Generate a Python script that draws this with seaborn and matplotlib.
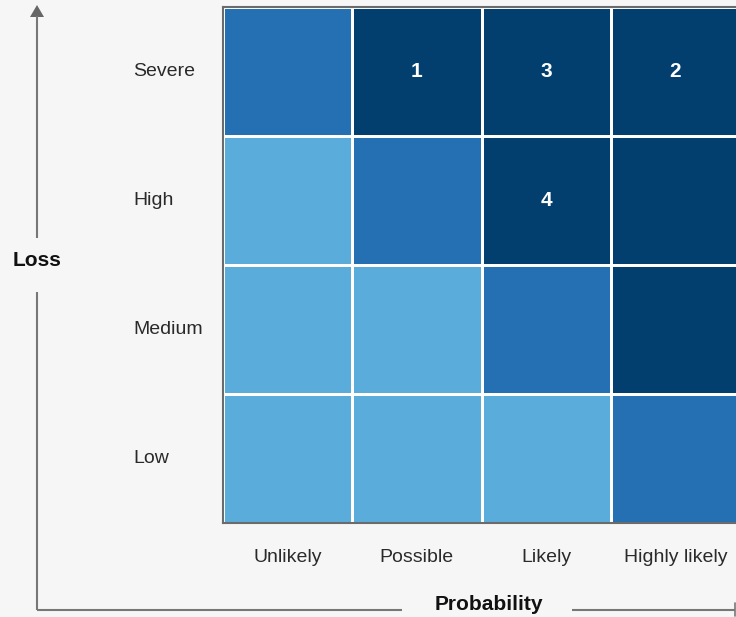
import numpy as np
import pandas as pd
import matplotlib
matplotlib.use("Agg")
import matplotlib.pyplot as plt
from matplotlib.colors import ListedColormap
from matplotlib.patches import Polygon
import seaborn as sns

# Axis categories
probability = ["Unlikely", "Possible", "Likely", "Highly likely"]
loss = ["Severe", "High", "Medium", "Low"]

# Risk level of each cell (rows follow `loss`, columns follow `probability`)
level_severe = [1, 2, 2, 2]
level_high = [0, 1, 2, 2]
level_medium = [0, 0, 1, 2]
level_low = [0, 0, 0, 1]

# Numbered risks placed on the matrix
risk_ids = ["1", "2", "3", "4"]
risk_probability = ["Possible", "Highly likely", "Likely", "Likely"]
risk_loss = ["Severe", "Severe", "Severe", "High"]

level_colors = ["#5aacdb", "#2470b3", "#023f6e"]
bg = "#f6f6f6"
axis_gray = "#777777"

levels = pd.DataFrame([level_severe, level_high, level_medium, level_low],
                      index=loss, columns=probability)
labels = pd.DataFrame("", index=loss, columns=probability)
for rid, p, l in zip(risk_ids, risk_probability, risk_loss):
    labels.loc[l, p] = rid

sns.set_theme(style="white")
plt.rcParams["font.family"] = ["Liberation Sans", "DejaVu Sans"]

W, H = 736, 617
fig = plt.figure(figsize=(W / 100, H / 100), dpi=100)
fig.patch.set_facecolor(bg)

# Background overlay in pixel coordinates for the axis arrows and titles
ov = fig.add_axes([0, 0, 1, 1], zorder=0)
ov.set_xlim(0, W)
ov.set_ylim(H, 0)
ov.axis("off")

left, right, top, bottom = 223, 740, 7, 523
ax = fig.add_axes([left / W, 1 - bottom / H, (right - left) / W, (bottom - top) / H], zorder=1)
sns.heatmap(levels, ax=ax, cmap=ListedColormap(level_colors), vmin=-0.5, vmax=2.5,
            cbar=False, linewidths=0.8, linecolor="white",
            annot=labels, fmt="",
            annot_kws={"color": "white", "fontsize": 15, "fontweight": "bold"})
ax.set_xlabel("")
ax.set_ylabel("")
for side in ["left", "top", "bottom"]:
    ax.spines[side].set_visible(True)
    ax.spines[side].set_color("#6b6b6b")
    ax.spines[side].set_linewidth(1.5)
ax.spines["right"].set_visible(False)

ax.tick_params(axis="y", length=0, pad=(left - 133) * 0.72, labelsize=14, labelcolor="#2a2a2a")
ax.tick_params(axis="x", length=0, pad=19, labelsize=14, labelcolor="#2a2a2a")
for t in ax.get_yticklabels():
    t.set_ha("left")
    t.set_va("center")
    t.set_rotation(0)
for t in ax.get_xticklabels():
    t.set_rotation(0)

# Vertical "Loss" axis with arrowhead
ov.plot([37, 37], [610, 292], color=axis_gray, lw=1.5, solid_capstyle="butt")
ov.plot([37, 37], [238, 16], color=axis_gray, lw=1.5, solid_capstyle="butt")
ov.add_patch(Polygon([[30, 17], [44, 17], [37, 5]], closed=True, color="#666666", lw=0))
ov.text(37, 260, "Loss", ha="center", va="center", fontsize=15, fontweight="bold", color="#111111")

# Horizontal "Probability" axis
ov.plot([37, 402], [610, 610], color=axis_gray, lw=1.5, solid_capstyle="butt")
ov.plot([572, 735], [610, 610], color=axis_gray, lw=1.5, solid_capstyle="butt")
ov.plot([735, 735], [603, 616], color=axis_gray, lw=1.2)
ov.text(489, 605, "Probability", ha="center", va="center", fontsize=15, fontweight="bold", color="#111111")

fig.savefig("out.png", dpi=100, facecolor=bg)
